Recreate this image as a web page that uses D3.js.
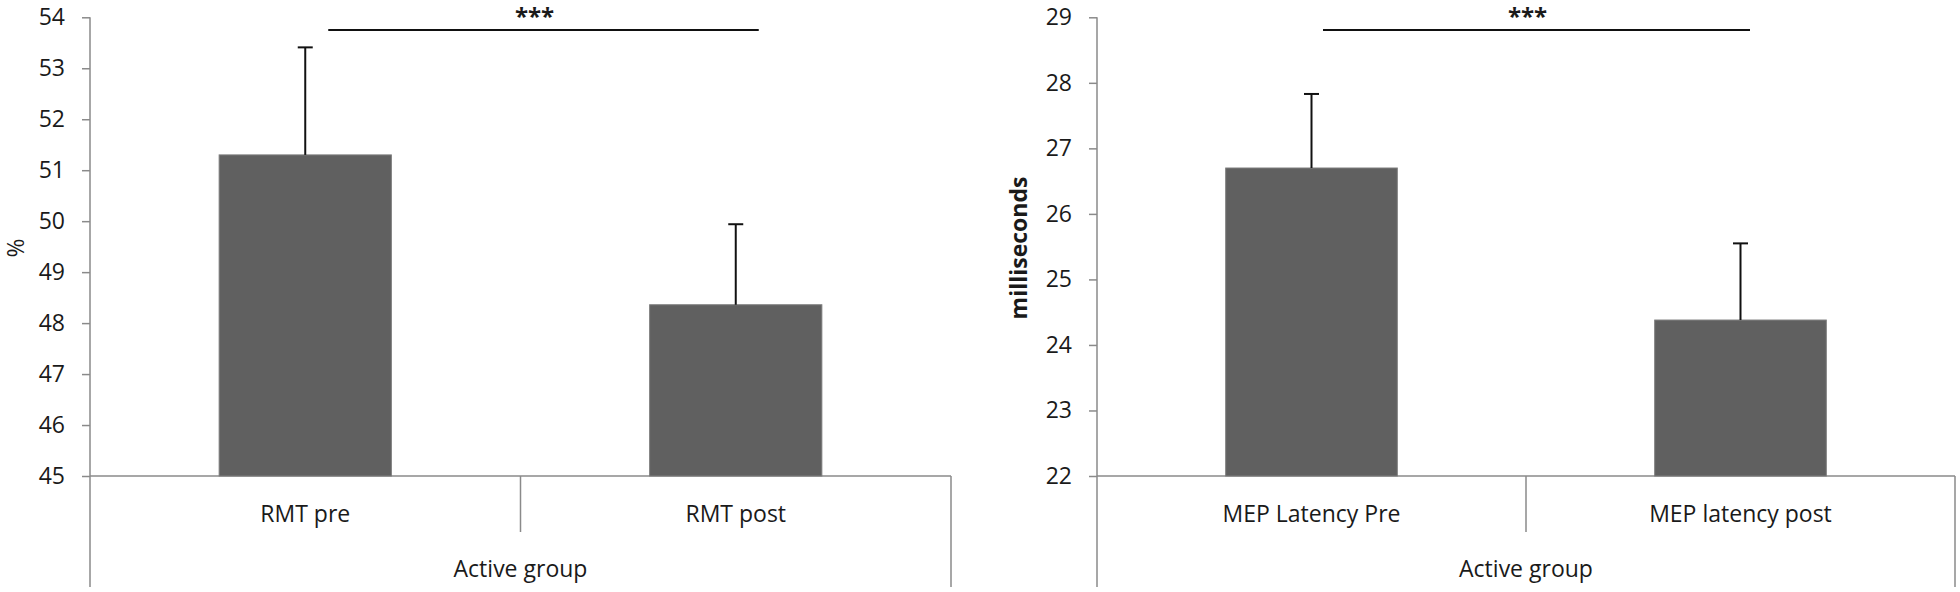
<!DOCTYPE html>
<html>
<head>
<meta charset="utf-8">
<script src="https://cdnjs.cloudflare.com/ajax/libs/d3/7.8.5/d3.min.js"></script>
<style>
  html, body { margin: 0; padding: 0; background: #fff; }
  svg { display: block; }
  text { font-family: "Open Sans", "Lato", sans-serif; fill: #1a1a1a; }
</style>
</head>
<body>
<svg id="chart" width="1960" height="592"></svg>
<script>
// ---------- data ----------
const leftCategories = ["RMT pre", "RMT post"];
const leftValues = [51.3, 48.36];
const leftErrors = [2.11, 1.58];
const leftTicks = [45, 46, 47, 48, 49, 50, 51, 52, 53, 54];
const leftYLabel = "%";

const rightCategories = ["MEP Latency Pre", "MEP latency post"];
const rightValues = [26.7, 24.38];
const rightErrors = [1.13, 1.17];
const rightTicks = [22, 23, 24, 25, 26, 27, 28, 29];
const rightYLabel = "milliseconds";

const groupLabel = "Active group";
const sigLabel = "***";

// ---------- layout ----------
const svg = d3.select("#chart");
const yTop = 17.3, yBottom = 476, frameBottom = 587, dividerBottom = 532;
const fontSize = 23;

const panels = [
  { cats: leftCategories, vals: leftValues, errs: leftErrors, ticks: leftTicks,
    ylabel: leftYLabel, bold: false, x0: 90, x1: 951, labelX: 15,
    sig: [23, 23] },
  { cats: rightCategories, vals: rightValues, errs: rightErrors, ticks: rightTicks,
    ylabel: rightYLabel, bold: true, x0: 1097, x1: 1955, labelX: 1018,
    sig: [11.5, 9.5] }
];

const frameColor = "#8a8a8a";

panels.forEach(p => {
  const g = svg.append("g");
  const x = d3.scaleBand().domain(p.cats).range([p.x0, p.x1])
    .paddingInner(0.6).paddingOuter(0.3);
  const outer = d3.scaleBand().domain(p.cats).range([p.x0, p.x1]).padding(0);
  const y = d3.scaleLinear()
    .domain([d3.min(p.ticks), d3.max(p.ticks)])
    .range([yBottom, yTop]);

  // y axis ticks
  const ax = g.append("g").attr("transform", `translate(${p.x0},0)`)
    .call(d3.axisLeft(y).tickValues(p.ticks).tickFormat(d3.format("d"))
      .tickSize(8).tickSizeOuter(0).tickPadding(17));
  ax.select(".domain").remove();
  ax.selectAll(".tick line").attr("stroke", frameColor).attr("stroke-width", 1.5);
  ax.selectAll(".tick text").attr("font-size", fontSize).attr("fill", "#1a1a1a")
    .attr("font-family", '"Open Sans", sans-serif');

  // frame lines
  g.append("line").attr("x1", p.x0).attr("x2", p.x0).attr("y1", yTop).attr("y2", frameBottom)
    .attr("stroke", frameColor).attr("stroke-width", 1.5);
  g.append("line").attr("x1", p.x0).attr("x2", p.x1).attr("y1", yBottom).attr("y2", yBottom)
    .attr("stroke", frameColor).attr("stroke-width", 1.5);
  g.append("line").attr("x1", p.x1).attr("x2", p.x1).attr("y1", yBottom).attr("y2", frameBottom)
    .attr("stroke", frameColor).attr("stroke-width", 1.5);
  const divX = outer(p.cats[1]);
  g.append("line").attr("x1", divX).attr("x2", divX).attr("y1", yBottom).attr("y2", dividerBottom)
    .attr("stroke", frameColor).attr("stroke-width", 1.5);

  const data = p.cats.map((c, i) => ({ c, v: p.vals[i], e: p.errs[i] }));

  // bars
  g.selectAll("rect.bar").data(data).enter().append("rect")
    .attr("class", "bar")
    .attr("x", d => x(d.c))
    .attr("width", x.bandwidth())
    .attr("y", d => y(d.v))
    .attr("height", d => y(d3.min(p.ticks)) - y(d.v))
    .attr("fill", "#606060")
    .attr("stroke", "#7c7c7c")
    .attr("stroke-width", 1);

  // error bars (upper only)
  const cx = d => x(d.c) + x.bandwidth() / 2;
  g.selectAll("line.err").data(data).enter().append("line")
    .attr("x1", cx).attr("x2", cx)
    .attr("y1", d => y(d.v)).attr("y2", d => y(d.v + d.e))
    .attr("stroke", "#111").attr("stroke-width", 2);
  g.selectAll("line.cap").data(data).enter().append("line")
    .attr("x1", d => cx(d) - 7.5).attr("x2", d => cx(d) + 7.5)
    .attr("y1", d => y(d.v + d.e)).attr("y2", d => y(d.v + d.e))
    .attr("stroke", "#111").attr("stroke-width", 2);

  // category labels
  g.selectAll("text.cat").data(data).enter().append("text")
    .attr("x", cx).attr("y", 522)
    .attr("text-anchor", "middle").attr("font-size", fontSize)
    .text(d => d.c);

  // group label
  g.append("text").attr("x", divX).attr("y", 577)
    .attr("text-anchor", "middle").attr("font-size", fontSize)
    .text(groupLabel);

  // y label
  g.append("text")
    .attr("transform", `translate(${p.labelX},248) rotate(-90)`)
    .attr("text-anchor", "middle").attr("dominant-baseline", "central")
    .attr("font-size", fontSize)
    .attr("font-weight", p.bold ? "bold" : "normal")
    .text(p.ylabel);

  // significance line
  const sx1 = cx(data[0]) + p.sig[0], sx2 = cx(data[1]) + p.sig[1];
  g.append("line").attr("x1", sx1).attr("x2", sx2).attr("y1", 30).attr("y2", 30)
    .attr("stroke", "#111").attr("stroke-width", 2);
  g.append("text").attr("x", (sx1 + sx2) / 2 - 9).attr("y", 25)
    .attr("text-anchor", "middle").attr("font-size", 24).attr("font-weight", "bold")
    .text(sigLabel);
});
</script>
</body>
</html>
